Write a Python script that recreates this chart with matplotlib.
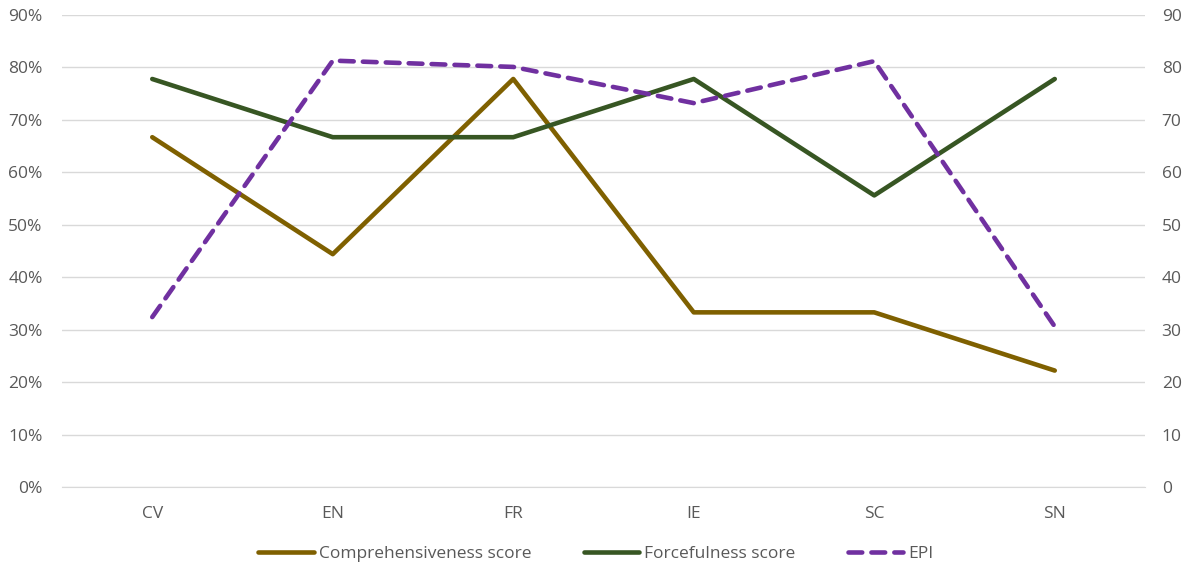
import numpy as np
import matplotlib.pyplot as plt

# data
countries = ["CV", "EN", "FR", "IE", "SC", "SN"]
comprehensiveness = [66.7, 44.4, 77.8, 33.3, 33.3, 22.2]
forcefulness = [77.8, 66.7, 66.7, 77.8, 55.6, 77.8]
epi = [32.4, 81.3, 80.1, 73.2, 81.2, 30.6]

plt.rcParams['font.family'] = ['Open Sans', 'DejaVu Sans']

fig = plt.figure(figsize=(11.92, 5.71), dpi=100)
ax = fig.add_axes([62/1192, 1 - 487/571, (1145-62)/1192, (487-15)/571])
ax2 = ax.twinx()

x = np.arange(len(countries))
l1, = ax.plot(x, comprehensiveness, color="#7F6000", lw=3.3, solid_capstyle="round",
              label="Comprehensiveness score")
l2, = ax.plot(x, forcefulness, color="#375623", lw=3.3, solid_capstyle="round",
              label="Forcefulness score")
l3, = ax2.plot(x, epi, color="#7030A0", lw=3.3, linestyle=(0, (3, 2)),
               dash_capstyle="round", label="EPI")

ax.set_xlim(-0.5, len(countries) - 0.5)
ax.set_ylim(0, 90)
ax2.set_ylim(0, 90)
ax.set_yticks(range(0, 91, 10))
ax.set_yticklabels([f"{v}%" for v in range(0, 91, 10)])
ax2.set_yticks(range(0, 91, 10))
ax.set_xticks(x)
ax.set_xticklabels(countries)

ax.grid(axis="y", color="#d9d9d9", lw=1)
ax.set_axisbelow(True)
for a in (ax, ax2):
    for s in a.spines.values():
        s.set_visible(False)
    a.tick_params(length=0, labelsize=12.5, colors="#595959")
ax.spines["bottom"].set_visible(True)
ax.spines["bottom"].set_color("#d9d9d9")
ax.tick_params(axis="x", pad=14)
ax.tick_params(axis="y", pad=14)
ax2.tick_params(axis="y", pad=12)

fig.legend(handles=[l1, l2, l3], loc="lower center", ncol=3, frameon=False,
           bbox_to_anchor=(0.5, -0.012), fontsize=12.5, handlelength=3.2,
           handletextpad=0.3, columnspacing=3.0, labelcolor="#595959")

fig.savefig("out.png", dpi=100)
